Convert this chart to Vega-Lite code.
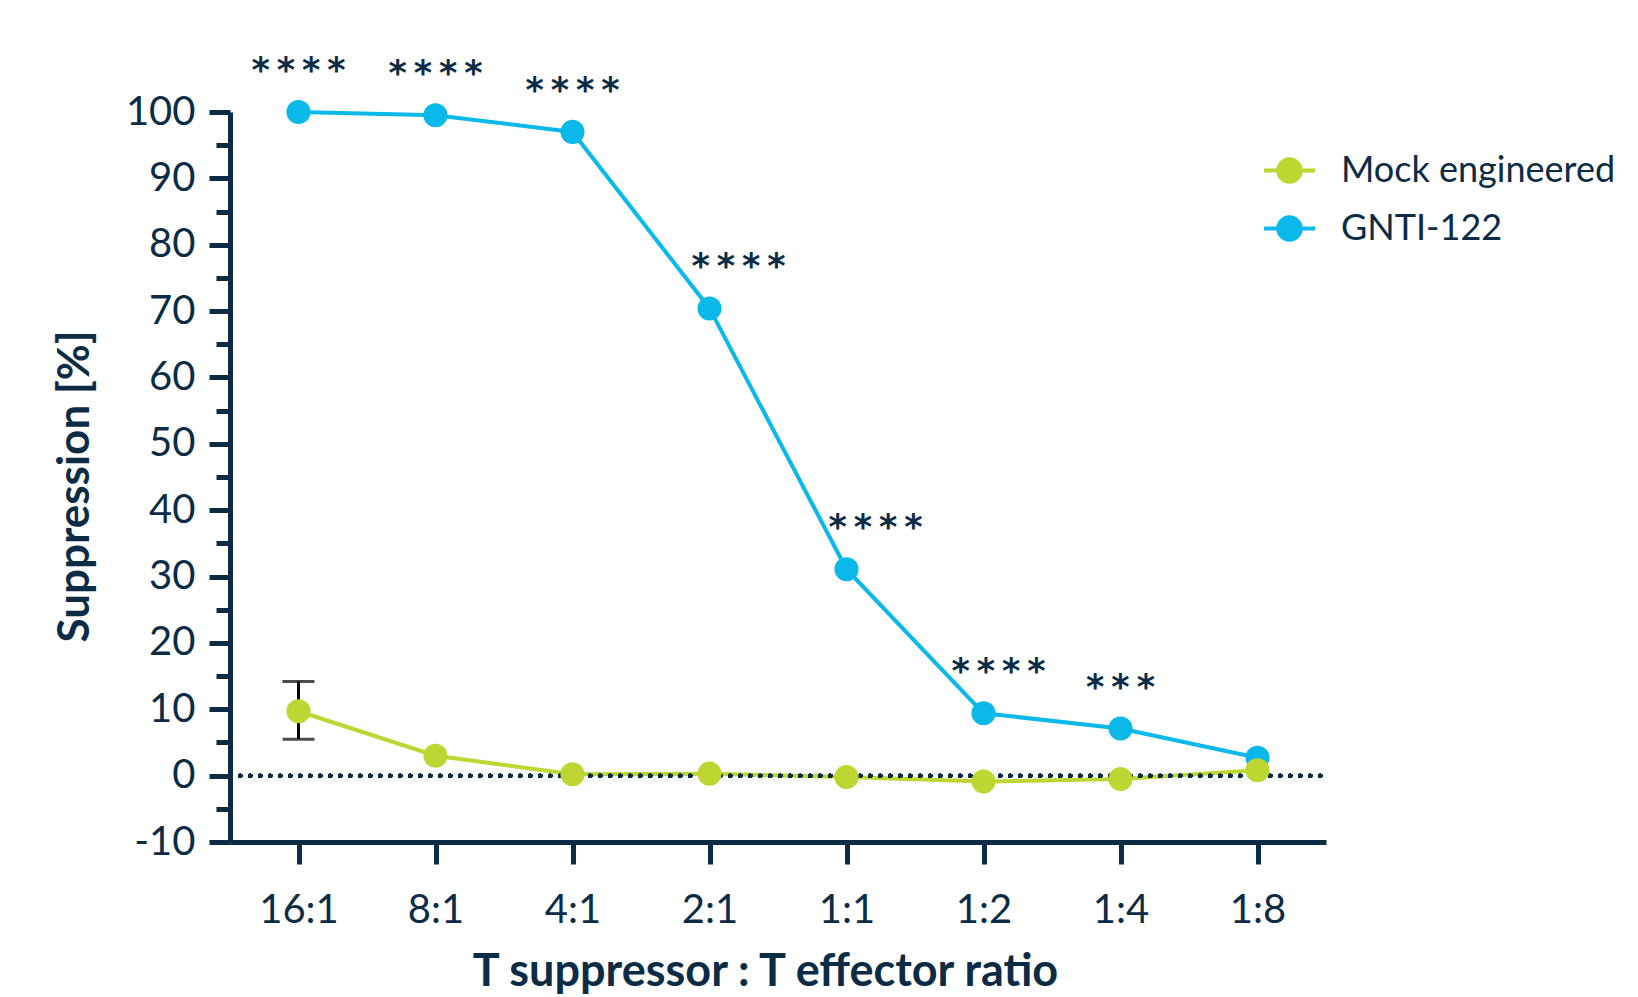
{
  "$schema": "https://vega.github.io/schema/vega-lite/v6.json",
  "autosize": {"type": "none"},
  "width": 1096,
  "height": 730,
  "padding": {"left": 230, "top": 112, "right": 312, "bottom": 155},
  "background": "white",
  "config": {"view": {"stroke": null}},
  "datasets": {
    "pts": [
      {"ratio": "16:1", "series": "GNTI-122", "value": 100.0, "sig": "*\u2009*\u2009*\u2009*"},
      {"ratio": "8:1", "series": "GNTI-122", "value": 99.5, "sig": "*\u2009*\u2009*\u2009*"},
      {"ratio": "4:1", "series": "GNTI-122", "value": 97.0, "sig": "*\u2009*\u2009*\u2009*"},
      {"ratio": "2:1", "series": "GNTI-122", "value": 70.4, "sig": "*\u2009*\u2009*\u2009*"},
      {"ratio": "1:1", "series": "GNTI-122", "value": 31.1, "sig": "*\u2009*\u2009*\u2009*"},
      {"ratio": "1:2", "series": "GNTI-122", "value": 9.4, "sig": "*\u2009*\u2009*\u2009*"},
      {"ratio": "1:4", "series": "GNTI-122", "value": 7.1, "sig": "*\u2009*\u2009*"},
      {"ratio": "1:8", "series": "GNTI-122", "value": 2.7, "sig": ""},
      {"ratio": "16:1", "series": "Mock engineered", "value": 9.7, "lo": 5.5, "hi": 14.2},
      {"ratio": "8:1", "series": "Mock engineered", "value": 3.0},
      {"ratio": "4:1", "series": "Mock engineered", "value": 0.2},
      {"ratio": "2:1", "series": "Mock engineered", "value": 0.3},
      {"ratio": "1:1", "series": "Mock engineered", "value": -0.2},
      {"ratio": "1:2", "series": "Mock engineered", "value": -0.9},
      {"ratio": "1:4", "series": "Mock engineered", "value": -0.5},
      {"ratio": "1:8", "series": "Mock engineered", "value": 0.8}
    ]
  },
  "data": {"name": "pts"},
  "encoding": {
    "x": {
      "field": "ratio",
      "type": "ordinal",
      "sort": ["16:1", "8:1", "4:1", "2:1", "1:1", "1:2", "1:4", "1:8"],
      "scale": {"type": "point", "padding": 0.5},
      "axis": {
        "title": "T suppressor : T effector ratio",
        "titleFont": "Lato",
        "titleFontWeight": "bold",
        "titleFontSize": 45,
        "titleColor": "#0c2b45",
        "titleX": 535,
        "titleY": 143,
        "titleAnchor": null,
        "titleAlign": "center",
        "titleBaseline": "alphabetic",
        "labelAngle": 0,
        "labelFont": "Lato",
        "labelFontSize": 40,
        "labelColor": "#0c2b45",
        "labelPadding": 26,
        "tickSize": 22,
        "tickWidth": 5,
        "tickColor": "#0c2b45",
        "domainColor": "#0c2b45",
        "domainWidth": 5,
        "grid": false
      }
    }
  },
  "layer": [
    {
      "transform": [{"filter": "datum.hi != null"}],
      "mark": {"type": "rule", "color": "black", "strokeWidth": 3},
      "encoding": {
        "y": {"field": "lo", "type": "quantitative", "scale": {"domain": [-10, 100], "nice": false, "zero": false}, "axis": null},
        "y2": {"field": "hi"}
      }
    },
    {
      "transform": [{"filter": "datum.hi != null"}, {"fold": ["lo", "hi"], "as": ["k", "bound"]}],
      "mark": {"type": "tick", "orient": "horizontal", "color": "black", "thickness": 3, "size": 32},
      "encoding": {
        "y": {"field": "bound", "type": "quantitative", "axis": null}
      }
    },
    {
      "transform": [{"filter": "datum.series == 'GNTI-122'"}],
      "mark": {"type": "line", "strokeWidth": 4},
      "encoding": {
        "y": {"field": "value", "type": "quantitative", "axis": null},
        "color": {
          "field": "series",
          "type": "nominal",
          "scale": {"domain": ["Mock engineered", "GNTI-122"], "range": ["#bdd632", "#0bb8ea"]},
          "legend": {
            "orient": "none",
            "legendX": 1032,
            "legendY": 31,
            "title": null,
            "padding": 0,
            "symbolType": "M-1,0L1,0M-0.44,0A0.44,0.44,0,1,1,0.44,0A0.44,0.44,0,1,1,-0.44,0Z",
            "symbolSize": 2601,
            "symbolStrokeWidth": 4,
            "symbolOffset": 0,
            "labelFont": "Lato",
            "labelFontSize": 36,
            "labelColor": "#0c2b45",
            "labelOffset": 24,
            "labelLimit": 0,
            "rowPadding": 11,
            "encode": {
              "symbols": {
                "update": {
                  "fill": {"scale": "color", "field": "value"},
                  "stroke": {"scale": "color", "field": "value"},
                  "opacity": {"value": 1}
                }
              }
            }
          }
        }
      }
    },
    {
      "transform": [{"filter": "datum.series == 'Mock engineered'"}],
      "mark": {"type": "line", "strokeWidth": 4},
      "encoding": {
        "y": {"field": "value", "type": "quantitative", "axis": null},
        "color": {"field": "series", "type": "nominal"}
      }
    },
    {
      "mark": {"type": "rule", "color": "#0c2b45", "strokeWidth": 4, "strokeDash": [0.5, 9.5], "strokeCap": "round"},
      "encoding": {
        "x": {"value": 0},
        "x2": {"value": 1096},
        "y": {
          "datum": 0,
          "type": "quantitative",
          "axis": {
            "orient": "left",
            "values": [-5, 5, 15, 25, 35, 45, 55, 65, 75, 85, 95],
            "labels": false,
            "domain": false,
            "tickSize": 14,
            "tickWidth": 5,
            "tickColor": "#0c2b45",
            "grid": false,
            "title": null
          }
        }
      }
    },
    {
      "transform": [{"filter": "datum.series == 'GNTI-122'"}],
      "mark": {"type": "point", "filled": true, "opacity": 1, "size": 580},
      "encoding": {
        "y": {
          "field": "value",
          "type": "quantitative",
          "axis": {
            "orient": "left",
            "values": [-10, 0, 10, 20, 30, 40, 50, 60, 70, 80, 90, 100],
            "labelExpr": "datum.value < 0 ? '-' + abs(datum.value) : datum.label",
            "title": "Suppression [%]",
            "titleFont": "Lato",
            "titleFontWeight": "bold",
            "titleFontSize": 44,
            "titleColor": "#0c2b45",
            "titleX": -155,
            "titleY": 374,
            "titleAngle": -90,
            "titleAlign": "center",
            "titleBaseline": "middle",
            "labelFont": "Lato",
            "labelFontSize": 40,
            "labelColor": "#0c2b45",
            "labelPadding": 14,
            "tickSize": 21,
            "tickWidth": 5,
            "tickColor": "#0c2b45",
            "domainColor": "#0c2b45",
            "domainWidth": 5,
            "grid": false
          }
        },
        "color": {"field": "series", "type": "nominal"}
      }
    },
    {
      "transform": [{"filter": "datum.series == 'Mock engineered'"}],
      "mark": {"type": "point", "filled": true, "opacity": 1, "size": 580},
      "encoding": {
        "y": {"field": "value", "type": "quantitative", "axis": null},
        "color": {"field": "series", "type": "nominal"}
      }
    },
    {
      "transform": [{"filter": "datum.series == 'GNTI-122' && indexof(['16:1','8:1','4:1','1:4'], datum.ratio) >= 0"}],
      "mark": {"type": "text", "font": "DejaVu Sans", "fontWeight": "bold", "fontSize": 35, "color": "#0c2b45", "baseline": "alphabetic", "align": "center", "dy": -30},
      "encoding": {
        "y": {"field": "value", "type": "quantitative", "axis": null},
        "text": {"field": "sig"}
      }
    },
    {
      "transform": [{"filter": "datum.ratio == '2:1' || datum.ratio == '1:1'"}, {"filter": "datum.series == 'GNTI-122'"}],
      "mark": {"type": "text", "font": "DejaVu Sans", "fontWeight": "bold", "fontSize": 35, "color": "#0c2b45", "baseline": "alphabetic", "align": "center", "dy": -30, "dx": 29},
      "encoding": {
        "y": {"field": "value", "type": "quantitative", "axis": null},
        "text": {"field": "sig"}
      }
    },
    {
      "transform": [{"filter": "datum.ratio == '1:2' && datum.series == 'GNTI-122'"}],
      "mark": {"type": "text", "font": "DejaVu Sans", "fontWeight": "bold", "fontSize": 35, "color": "#0c2b45", "baseline": "alphabetic", "align": "center", "dy": -30, "dx": 15},
      "encoding": {
        "y": {"field": "value", "type": "quantitative", "axis": null},
        "text": {"field": "sig"}
      }
    }
  ],
  "resolve": {"axis": {"y": "independent"}}
}
